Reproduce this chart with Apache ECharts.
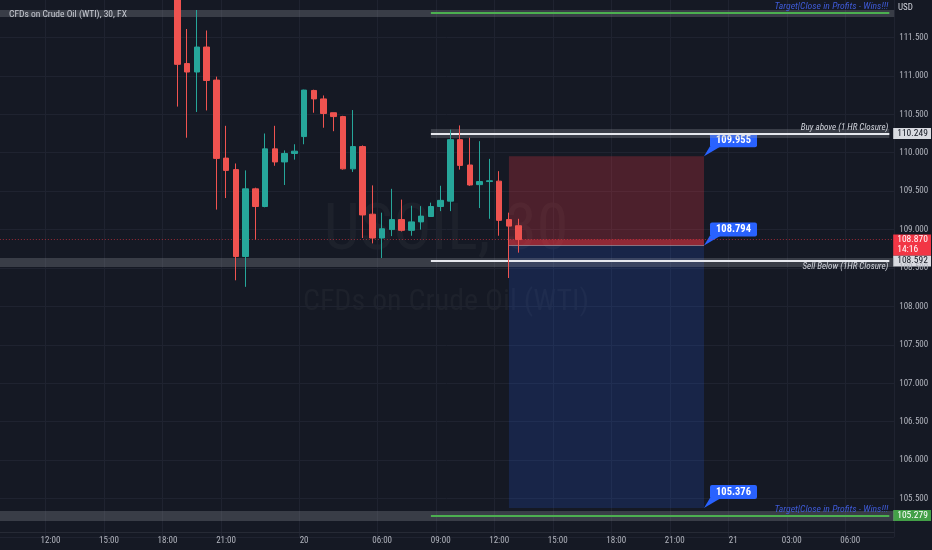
<!DOCTYPE html>
<html><head><meta charset="utf-8">
<script src="https://cdn.jsdelivr.net/npm/echarts@6/dist/echarts.min.js"></script>
<style>html,body{margin:0;padding:0;background:#151924;}#c{width:932px;height:550px;}</style>
</head><body><div id="c"></div>
<script>
// ---------------- data ----------------
const FONT = '"Liberation Sans Narrow", "Roboto Condensed", "DejaVu Sans Condensed", Roboto, sans-serif';

// 30-minute bar slots: [day, first bar time (minutes), number of bars]
const sessions = [['19', 570, 29], ['20', 60, 46], ['21', 0, 17]];
const categories = [];
sessions.forEach(function (s) {
  for (let i = 0; i < s[2]; i++) {
    const m = s[1] + i * 30;
    categories.push(s[0] + ' ' + String(Math.floor(m / 60)).padStart(2, '0') + ':' + String(m % 60).padStart(2, '0'));
  }
});

const tickTimes  = ['19 12:00','19 15:00','19 18:00','19 21:00','20 02:00','20 06:00','20 09:00','20 12:00','20 15:00','20 18:00','20 21:00','21 00:00','21 03:00','21 06:00'];
const tickLabels = ['12:00','15:00','18:00','21:00','20','06:00','09:00','12:00','15:00','18:00','21:00','21','03:00','06:00'];

const firstCandle = '19 18:30';
const open  = [112.40,111.16,111.05,111.375,110.945,109.93,109.78,108.65,109.53,109.30,110.05,109.88,109.99,110.21,110.81,110.70,110.52,110.47,109.79,110.08,109.20,108.89,109.00,109.13,108.99,109.10,109.17,109.30,109.37,110.17,109.84,109.585,109.625,109.63,109.13,109.05];
const close = [111.15,111.05,111.375,110.94,109.926,109.77,108.65,109.53,109.30,110.05,109.88,109.99,110.02,110.815,110.70,110.51,110.47,109.79,110.08,109.19,108.89,109.01,109.13,108.99,109.10,109.175,109.30,109.38,110.17,109.835,109.58,109.625,109.635,109.12,109.045,108.87];
const low   = [110.60,110.195,110.53,110.55,109.26,109.41,108.34,108.255,108.87,109.29,109.83,109.58,109.91,110.11,110.52,110.325,110.28,109.78,109.75,108.89,108.82,108.63,108.915,108.975,108.92,109.00,109.165,109.24,109.24,109.78,109.57,109.28,109.14,108.92,108.37,108.70];
const high  = [112.60,111.61,111.857,111.59,110.99,110.35,109.86,109.77,109.545,110.25,110.35,110.03,110.11,110.82,110.82,110.745,110.52,110.48,110.555,110.095,109.575,109.22,109.53,109.39,109.31,109.305,109.35,109.57,110.30,110.355,110.195,110.15,109.92,109.76,109.22,109.14];

const topTarget = 111.82, buyAbove = 110.249, sellBelow = 108.592, bottomTarget = 105.279;
const lastPrice = 108.870, countdown = '14:16';
const posStart = '20 12:30', posEnd = '20 22:30';
const posStop = 109.955, posEntry = 108.794, posTarget = 105.376;
const levelStart = '20 08:30';
const priceTicks = { min: 105, max: 112, step: 0.5 };

// ---------------- chart ----------------
const chart = echarts.init(document.getElementById('c'), null, { renderer: 'canvas' });
const startIdx = categories.indexOf(firstCandle);
const candleData = categories.map(function (c, i) {
  const j = i - startIdx;
  return (j >= 0 && j < open.length) ? [open[j], close[j], low[j], high[j]] : '-';
});
const lastCat = categories[categories.length - 1];
const isTick = function (i) { return tickTimes.indexOf(categories[i]) >= 0; };

const band = function (v, w) { return { yAxis: v, lineStyle: { color: 'rgba(150,153,163,0.28)', width: w, type: 'solid' }, label: { show: false } }; };
const seg = function (v, color, w, label) {
  return [{ coord: [levelStart, v], lineStyle: { color: color, width: w, type: 'solid' }, label: label || { show: false } }, { coord: [lastCat, v] }];
};
const noteLabel = function (text, pos, color, size) {
  return { show: true, formatter: text, position: pos, distance: 1, color: color, fontFamily: FONT, fontSize: size || 9, fontStyle: 'italic' };
};

chart.setOption({
  backgroundColor: '#151924',
  animation: false,
  title: { text: 'CFDs on Crude Oil (WTI), 30, FX', left: 4, top: 5, textStyle: { color: '#c8cbd3', fontSize: 9.5, fontWeight: 'normal', fontFamily: FONT } },
  grid: { left: -3.15, right: 37.8, top: -1, bottom: 13, containLabel: false, outerBoundsMode: 'none' },
  xAxis: {
    type: 'category', data: categories, boundaryGap: true, offset: -5,
    axisLine: { show: true, lineStyle: { color: '#262a35' } },
    axisTick: { show: false },
    axisLabel: { interval: function (i) { return isTick(i); }, formatter: function (v) { return tickLabels[tickTimes.indexOf(v)]; },
      color: '#b2b5be', fontSize: 9, fontFamily: FONT, margin: 4 },
    splitLine: { show: true, interval: function (i) { return isTick(i); }, lineStyle: { color: '#1f2330' } }
  },
  yAxis: {
    type: 'value', position: 'right', min: priceTicks.min, max: priceTicks.max, interval: priceTicks.step, scale: true,
    axisLine: { show: false }, axisTick: { show: false },
    axisLabel: { formatter: function (v) { return v.toFixed(3); }, color: '#b2b5be', fontSize: 9, fontFamily: FONT, margin: 5, showMinLabel: false, showMaxLabel: false },
    splitLine: { show: true, lineStyle: { color: '#1f2330' } }
  },
  series: [
    {
      type: 'line', z: 2, data: categories.map(function () { return '-'; }), silent: true,
      markArea: {
        silent: true,
        data: [
          [{ xAxis: posStart, yAxis: posStop, itemStyle: { color: 'rgba(242,54,69,0.25)' } }, { xAxis: posEnd, yAxis: posEntry }],
          [{ xAxis: posStart, yAxis: posEntry, itemStyle: { color: 'rgba(41,98,255,0.17)' } }, { xAxis: posEnd, yAxis: posTarget }],
          [{ xAxis: posStart, yAxis: lastPrice, itemStyle: { color: 'rgba(242,54,69,0.42)' } }, { xAxis: posEnd, yAxis: posEntry }]
        ]
      },
      markLine: {
        silent: true, symbol: ['none', 'none'], animation: false,
        data: [
          band(topTarget, 7), band(108.578, 9), band(105.284, 10),
          [{ coord: [levelStart, buyAbove], lineStyle: { color: 'rgba(150,153,163,0.28)', width: 9, type: 'solid' }, label: { show: false } }, { coord: [lastCat, buyAbove] }],
          seg(topTarget, '#4caf50', 2, noteLabel('Target|Close in Profits - Wins!!!', 'insideEndTop', '#3f5bd8', 9.7)),
          seg(bottomTarget, '#4caf50', 2, noteLabel('Target|Close in Profits - Wins!!!', 'insideEndTop', '#3f5bd8', 9.7)),
          seg(buyAbove, '#e6e8ee', 2, noteLabel('Buy above (1 HR Closure)', 'insideEndTop', '#d1d4dc')),
          seg(sellBelow, '#e6e8ee', 2, noteLabel('Sell Below (1HR Closure)', 'insideEndBottom', '#d1d4dc')),
          [{ coord: [posStart, posEntry], lineStyle: { color: 'rgba(200,203,210,0.45)', width: 1, type: 'solid' }, label: { show: false } }, { coord: [posEnd, posEntry] }],
          { yAxis: lastPrice, lineStyle: { color: 'rgba(242,54,69,0.6)', width: 1, type: [1, 2] }, label: { show: false } }
        ]
      }
    },
    {
      type: 'candlestick', z: 5, data: candleData, barWidth: 6, clip: true,
      itemStyle: { color: '#26a69a', color0: '#ef5350', borderColor: '#26a69a', borderColor0: '#ef5350', borderWidth: 1 }
    }
  ]
});

// callouts, price tags and decorations placed through the chart's own scales
const toPx = function (cat, value) { return chart.convertToPixel({ xAxisIndex: 0, yAxisIndex: 0 }, [categories.indexOf(cat), value]); };
const callout = function (value) {
  const p = toPx(posEnd, value);
  const x = p[0], y = p[1];
  return {
    type: 'group', z: 50, children: [
      { type: 'polygon', shape: { points: [[x, y], [x + 6, y - 10], [x + 17, y - 10]] }, style: { fill: '#2962ff' } },
      { type: 'rect', shape: { x: x + 6, y: y - 23, width: 47, height: 14, r: 2 }, style: { fill: '#2962ff' } },
      { type: 'text', x: x + 29.5, y: y - 16, style: { text: value.toFixed(3), fill: '#ffffff', font: 'bold 10.5px ' + FONT, align: 'center', verticalAlign: 'middle' } }
    ]
  };
};
const gridRect = chart.getModel().getComponent('grid', 0).coordinateSystem.getRect();
const axisX = gridRect.x + gridRect.width - 1;
const priceTag = function (value, bg, fg, lines, dy) {
  const y = toPx(lastCat, value)[1] + (dy || 0);
  const h = lines.length * 10 + 1;
  const children = [{ type: 'rect', shape: { x: axisX, y: y - 5.5, width: chart.getWidth() - axisX - 1, height: h }, style: { fill: bg } }];
  lines.forEach(function (t, i) {
    children.push({ type: 'text', x: axisX + 4, y: y + i * 10, style: { text: t, fill: fg, font: '9.5px ' + FONT, verticalAlign: 'middle' } });
  });
  return { type: 'group', z: 60, children: children };
};
const w = chart.getWidth();
chart.setOption({
  graphic: { elements: [
    { type: 'text', z: -1, x: 446, y: 233, style: { text: 'USOIL, 30', fill: 'rgba(255,255,255,0.035)', font: '64px ' + FONT, align: 'center', verticalAlign: 'middle' } },
    { type: 'text', z: -1, x: 446, y: 302, style: { text: 'CFDs on Crude Oil (WTI)', fill: 'rgba(255,255,255,0.035)', font: '30px ' + FONT, align: 'center', verticalAlign: 'middle' } },
    { type: 'text', x: w - 34, y: 8, style: { text: 'USD', fill: '#d1d4dc', font: '9px ' + FONT, verticalAlign: 'middle' } },
    callout(posStop), callout(posEntry), callout(posTarget),
    priceTag(buyAbove, '#d9dbe1', '#131722', [buyAbove.toFixed(3)]),
    priceTag(sellBelow, '#d9dbe1', '#131722', [sellBelow.toFixed(3)]),
    priceTag(bottomTarget, '#43a047', '#ffffff', [bottomTarget.toFixed(3)]),
    priceTag(lastPrice, '#f23645', '#ffffff', [lastPrice.toFixed(3), countdown], 0.5)
  ] }
});
</script></body></html>
